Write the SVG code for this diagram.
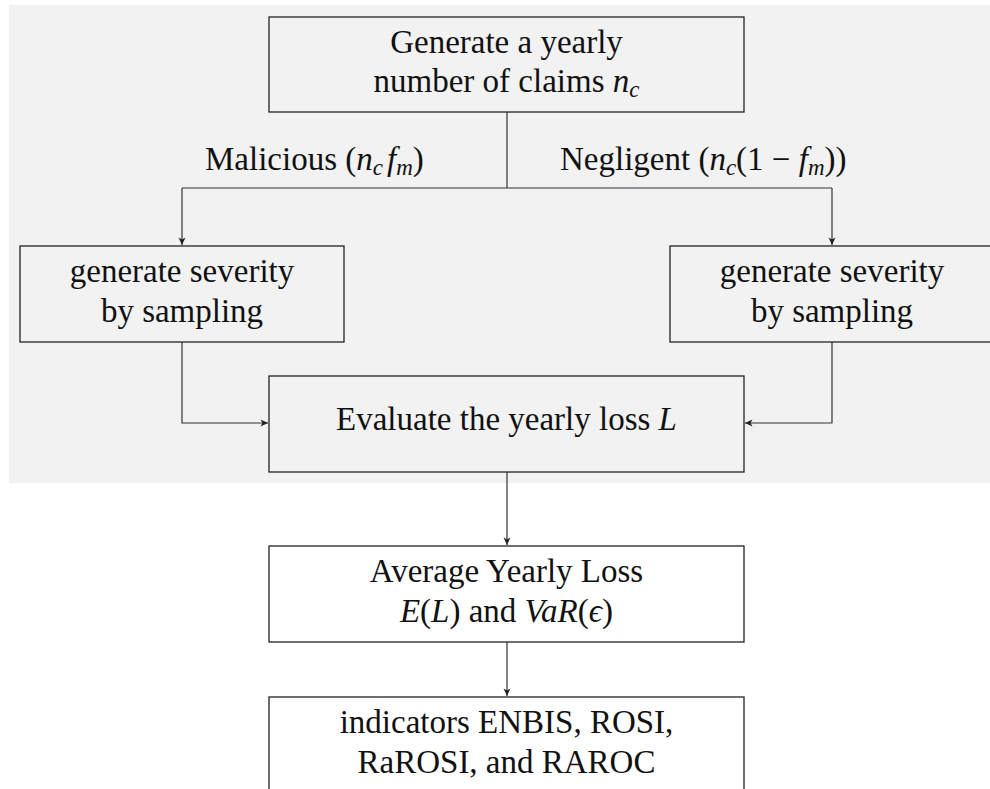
<svg xmlns="http://www.w3.org/2000/svg" width="990" height="789" viewBox="0 0 990 789">
<style>
.box{fill:none;stroke:#222;stroke-width:1.3}
.wbox{fill:#fff;stroke:#222;stroke-width:1.3}
.ln{fill:none;stroke:#333;stroke-width:1.2}
text{font-family:"Liberation Serif","Times New Roman",serif;font-size:33px;fill:#111}
.c{text-anchor:middle}
.i{font-style:italic}
.s{font-size:23px}
</style>
<defs>
<marker id="ah" viewBox="-8 -4 9 8" refX="0" refY="0" markerWidth="9" markerHeight="8" markerUnits="userSpaceOnUse" orient="auto">
<path d="M0,0 L-7.5,-3.5 L-5.5,0 L-7.5,3.5 Z" fill="#222"/>
</marker>
</defs>
<rect x="9" y="5" width="981" height="478" fill="#f2f2f2"/>
<g id="connectors">
<path class="ln" d="M507,112 V188"/>
<path class="ln" d="M182,188 H832"/>
<path class="ln" d="M182,188 V245" marker-end="url(#ah)"/>
<path class="ln" d="M832,188 V245" marker-end="url(#ah)"/>
<path class="ln" d="M182,342 V423 H268" marker-end="url(#ah)"/>
<path class="ln" d="M832,342 V423 H745" marker-end="url(#ah)"/>
<path class="ln" d="M507,472 V545" marker-end="url(#ah)"/>
<path class="ln" d="M507,642 V696" marker-end="url(#ah)"/>
<text x="205" y="170">Malicious (<tspan class="i">n</tspan><tspan class="s i" dy="5">c</tspan><tspan class="i" dx="4" dy="-5">f</tspan><tspan class="s i" dy="5">m</tspan><tspan dy="-5">)</tspan></text>
<text x="560" y="170">Negligent (<tspan class="i">n</tspan><tspan class="s i" dy="5">c</tspan><tspan dy="-5">(1 − </tspan><tspan class="i">f</tspan><tspan class="s i" dy="5">m</tspan><tspan dy="-5">))</tspan></text>
</g>
<g id="n1">
<rect class="box" x="269" y="17" width="475" height="95"/>
<text class="c" x="506.5" y="53">Generate a yearly</text>
<text class="c" x="506.5" y="92">number of claims <tspan class="i">n</tspan><tspan class="s i" dy="5">c</tspan></text>
</g>
<g id="n2">
<rect class="box" x="20" y="246" width="324" height="96"/>
<text class="c" x="182" y="282">generate severity</text>
<text class="c" x="182" y="322">by sampling</text>
</g>
<g id="n3">
<rect class="box" x="670" y="246" width="324" height="96"/>
<text class="c" x="832" y="282">generate severity</text>
<text class="c" x="832" y="322">by sampling</text>
</g>
<g id="n4">
<rect class="box" x="269" y="376" width="475" height="96"/>
<text class="c" x="506.5" y="430">Evaluate the yearly loss <tspan class="i">L</tspan></text>
</g>
<g id="n5">
<rect class="wbox" x="269" y="546" width="475" height="96"/>
<text class="c" x="506.5" y="582">Average Yearly Loss</text>
<text class="c" x="506.5" y="622"><tspan class="i">E</tspan>(<tspan class="i">L</tspan>) and <tspan class="i">VaR</tspan>(<tspan class="i">ϵ</tspan>)</text>
</g>
<g id="n6">
<rect class="wbox" x="269" y="697" width="475" height="96"/>
<text class="c" x="506.5" y="733">indicators ENBIS, ROSI,</text>
<text class="c" x="506.5" y="773">RaROSI, and RAROC</text>
</g>
</svg>
